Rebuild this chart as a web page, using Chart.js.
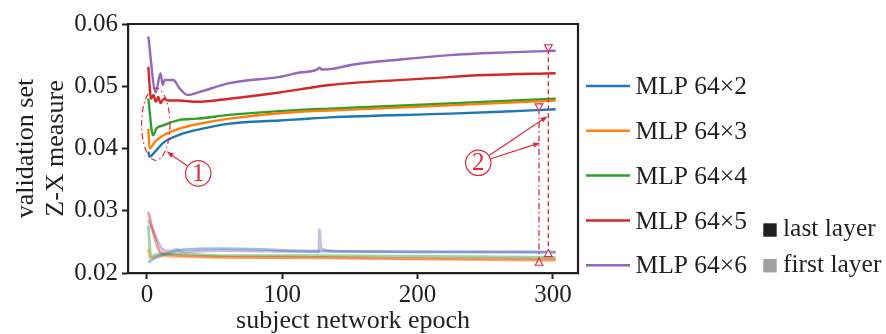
<!DOCTYPE html>
<html>
<head>
<meta charset="utf-8">
<script src="https://cdn.jsdelivr.net/npm/chart.js@4.4.1/dist/chart.umd.min.js"></script>
<style>
  html, body { margin: 0; padding: 0; background: #fff; }
  #wrap { position: relative; width: 886px; height: 334px; }
</style>
</head>
<body>
<div id="wrap"><canvas id="chart" width="886" height="334"></canvas></div>
<script>
//Axis ticks and titles
const xTicks = [0, 100, 200, 300];
const yTicks = [0.02, 0.03, 0.04, 0.05, 0.06];
const xTitle = 'subject network epoch';
const yTitle = ['validation set', 'Z-X measure'];

//Series names and colours (legend order)
const seriesNames = ['MLP 64×2', 'MLP 64×3', 'MLP 64×4', 'MLP 64×5', 'MLP 64×6'];
const seriesColors = ['#1f77b4', '#ff7f0e', '#2ca02c', '#d62728', '#9467bd'];
const layerNames = ['last layer', 'first layer'];

//Last layer curves (epoch, value)
const lastEp2  = [1, 2, 6, 12, 24, 37, 61, 98, 113, 135, 224, 261, 302];
const lastVal2 = [0.0395, 0.0387, 0.0395, 0.0409, 0.0422, 0.0430, 0.0440, 0.0445, 0.0447, 0.0450, 0.0456, 0.0459, 0.0463];
const lastEp3  = [1, 2, 6, 12, 24, 37, 61, 113, 135, 211, 302];
const lastVal3 = [0.0432, 0.0400, 0.0411, 0.0421, 0.0432, 0.0439, 0.0448, 0.0459, 0.0461, 0.0468, 0.0477];
const lastEp4  = [1, 4.5, 7, 12, 24, 37, 61, 113, 135, 211, 302];
const lastVal4 = [0.0480, 0.0421, 0.0432, 0.0437, 0.0446, 0.0448, 0.0454, 0.0462, 0.0464, 0.0471, 0.0480];
const lastEp5  = [1, 3, 4.7, 6.6, 8.4, 10, 12.6, 15.7, 24, 37, 61, 98, 113, 135, 211, 250, 302];
const lastVal5 = [0.0531, 0.0480, 0.0486, 0.0475, 0.0483, 0.0473, 0.0480, 0.0477, 0.0477, 0.0475, 0.0480, 0.0490, 0.0495, 0.0502, 0.0513, 0.0518, 0.0521];
const lastEp6  = [1, 6.5, 10, 11.7, 13, 19.5, 24, 30, 39, 61, 98, 113, 126, 127.5, 129, 137, 153, 187, 224, 261, 302];
const lastVal6 = [0.0580, 0.0490, 0.0521, 0.0502, 0.0510, 0.0510, 0.0497, 0.0486, 0.0491, 0.0505, 0.0515, 0.0522, 0.0527, 0.0530, 0.0527, 0.0528, 0.0535, 0.0543, 0.0550, 0.0554, 0.0557];

//First layer curves
const firstEp2  = [1, 5, 14.5, 29, 54, 128, 200, 302];
const firstVal2 = [0.0217, 0.0223, 0.0231, 0.0238, 0.0239, 0.0235, 0.0234, 0.0234];
const firstEp3  = [1, 2, 9.5, 54, 128, 302];
const firstVal3 = [0.0239, 0.0224, 0.0227, 0.0225, 0.0224, 0.0220];
const firstEp4  = [1, 3, 7, 24, 54, 128, 302];
const firstVal4 = [0.0276, 0.0226, 0.0230, 0.0231, 0.0228, 0.0228, 0.0225];
const firstEp5  = [1, 6, 9.5, 16, 24, 54, 128, 200, 302];
const firstVal5 = [0.0298, 0.0255, 0.0234, 0.0229, 0.0228, 0.0226, 0.0225, 0.0223, 0.0222];
const firstEp6  = [1, 5, 11, 16, 22, 26, 54, 127, 127.5, 128.5, 130, 137, 200, 302];
const firstVal6 = [0.0285, 0.0266, 0.0239, 0.0235, 0.0238, 0.0234, 0.0236, 0.0234, 0.0270, 0.0242, 0.0238, 0.0235, 0.0234, 0.0233];

//Annotations (data coordinates)
const markEpochs = [289.7, 296.6];
const markTops = [0.0468, 0.0563];
const markBottoms = [0.0216, 0.0230];
const ellipseCenter = [6.5, 0.0439];
const ellipseRadius = [10.5, 0.0058];
const calloutLabels = ['1', '2'];
const calloutAt = [[37.9, 0.0360], [244.8, 0.0377]];
const arrowTips = [[[14.6, 0.0395]], [[296, 0.0452], [290.5, 0.0409]]];

const ink = '#231f20';
const red = '#dc2a3e';
const serif = '"Liberation Serif", "Times New Roman", serif';

Chart.defaults.font.family = serif;
Chart.defaults.color = ink;

const toPoints = (ep, val) => ep.map((e, i) => ({x: e, y: val[i]}));

const lastSets = [[lastEp2, lastVal2], [lastEp3, lastVal3], [lastEp4, lastVal4], [lastEp5, lastVal5], [lastEp6, lastVal6]];
const firstSets = [[firstEp2, firstVal2], [firstEp3, firstVal3], [firstEp4, firstVal4], [firstEp5, firstVal5], [firstEp6, firstVal6]];

//light version of a colour for the first layer
const light = (hex, a) => {
    const n = parseInt(hex.slice(1), 16);
    return 'rgba(' + (n >> 16) + ',' + ((n >> 8) & 255) + ',' + (n & 255) + ',' + a + ')';
};

var datasets = [];
firstSets.forEach((s, i) => {
    datasets.push({
        label: seriesNames[i] + ' first',
        data: toPoints(s[0], s[1]),
        borderColor: light(seriesColors[i], 0.45),
        borderWidth: 2.8,
        pointRadius: 0,
        cubicInterpolationMode: 'monotone',
        order: 3
    });
});
lastSets.forEach((s, i) => {
    datasets.push({
        label: seriesNames[i],
        data: toPoints(s[0], s[1]),
        borderColor: seriesColors[i],
        borderWidth: 2.4,
        pointRadius: 0,
        cubicInterpolationMode: 'monotone',
        order: 2
    });
});
//vertical marker lines and their triangles
markEpochs.forEach((e, i) => {
    datasets.push({
        label: 'mark' + i,
        data: [{x: e, y: markBottoms[i]}, {x: e, y: markTops[i]}],
        borderColor: red,
        borderWidth: 1.3,
        borderDash: i == 0 ? [6, 3, 1.5, 3] : [5, 3],
        pointRadius: 0,
        order: 1
    });
});
datasets.push({
    label: 'tops',
    data: markEpochs.map((e, i) => ({x: e, y: markTops[i]})),
    showLine: false,
    pointStyle: 'triangle',
    rotation: 180,
    pointRadius: 4.5,
    pointBorderWidth: 1.1,
    pointBorderColor: red,
    pointBackgroundColor: '#fff',
    order: 0
});
datasets.push({
    label: 'bottoms',
    data: markEpochs.map((e, i) => ({x: e, y: markBottoms[i]})),
    showLine: false,
    pointStyle: 'triangle',
    pointRadius: 4.5,
    pointBorderWidth: 1.1,
    pointBorderColor: red,
    pointBackgroundColor: '#fff',
    order: 0
});

/*
    Ellipse, callout circles and arrows
*/
const annotatePlugin = {
    id: 'annotate',
    afterDatasetsDraw(chart) {
        const {ctx} = chart;
        const x = chart.scales.x, y = chart.scales.y;
        ctx.save();
        ctx.strokeStyle = red;
        ctx.fillStyle = red;
        ctx.lineWidth = 1.2;
        const cx = x.getPixelForValue(ellipseCenter[0]);
        const cy = y.getPixelForValue(ellipseCenter[1]);
        const rx = x.getPixelForValue(ellipseCenter[0] + ellipseRadius[0]) - cx;
        const ry = cy - y.getPixelForValue(ellipseCenter[1] + ellipseRadius[1]);
        ctx.setLineDash([6, 3, 1.5, 3]);
        ctx.beginPath();
        ctx.ellipse(cx, cy, rx, ry, 0, 0, 2 * Math.PI);
        ctx.stroke();
        ctx.setLineDash([]);
        const r = 12.7;
        calloutLabels.forEach((lab, i) => {
            const px = x.getPixelForValue(calloutAt[i][0]);
            const py = y.getPixelForValue(calloutAt[i][1]);
            ctx.beginPath();
            ctx.arc(px, py, r, 0, 2 * Math.PI);
            ctx.stroke();
            ctx.font = '25px ' + serif;
            ctx.textAlign = 'center';
            ctx.textBaseline = 'middle';
            ctx.fillText(lab, px, py + 1);
            arrowTips[i].forEach(t => {
                const tx = x.getPixelForValue(t[0]), ty = y.getPixelForValue(t[1]);
                const dx = tx - px, dy = ty - py, len = Math.hypot(dx, dy);
                const ux = dx / len, uy = dy / len;
                ctx.beginPath();
                ctx.moveTo(px + ux * (r + 0.5), py + uy * (r + 0.5));
                ctx.lineTo(tx - ux * 5, ty - uy * 5);
                ctx.stroke();
                ctx.beginPath();
                ctx.moveTo(tx, ty);
                ctx.lineTo(tx - ux * 7 - uy * 2.6, ty - uy * 7 + ux * 2.6);
                ctx.lineTo(tx - ux * 7 + uy * 2.6, ty - uy * 7 - ux * 2.6);
                ctx.closePath();
                ctx.fill();
            });
        });
        ctx.restore();
    }
};

/*
    Top and right frame lines plus the legend at the right
*/
const framePlugin = {
    id: 'frame',
    afterDraw(chart) {
        const {ctx, chartArea: a} = chart;
        ctx.save();
        ctx.strokeStyle = ink;
        ctx.lineWidth = 2.2;
        ctx.beginPath();
        ctx.moveTo(a.left - 1.1, a.top);
        ctx.lineTo(a.right, a.top);
        ctx.lineTo(a.right, a.bottom + 1.1);
        ctx.stroke();

        ctx.font = '25.5px ' + serif;
        ctx.textAlign = 'left';
        ctx.textBaseline = 'alphabetic';
        seriesNames.forEach((name, i) => {
            const ly = 86 + i * 44.8;
            ctx.strokeStyle = seriesColors[i];
            ctx.lineWidth = 2.5;
            ctx.beginPath();
            ctx.moveTo(586, ly);
            ctx.lineTo(630, ly);
            ctx.stroke();
            ctx.fillStyle = ink;
            ctx.fillText(name, 635.5, ly + 8.2);
        });
        const keyColors = [ink, '#a0a0a0'];
        const keyY = [223.3, 259];
        layerNames.forEach((name, i) => {
            ctx.fillStyle = keyColors[i];
            ctx.fillRect(763.3, keyY[i], 13.4, 13.4);
            ctx.fillStyle = ink;
            ctx.fillText(name, 783, keyY[i] + 13);
        });
        ctx.restore();
    }
};

new Chart(document.getElementById('chart'), {
    type: 'line',
    data: {datasets: datasets},
    options: {
        responsive: false,
        animation: false,
        devicePixelRatio: 1,
        layout: {padding: {left: 0, top: 24, right: 308, bottom: 0}},
        plugins: {legend: {display: false}, tooltip: {enabled: false}},
        scales: {
            x: {
                type: 'linear',
                min: -14,
                max: 318.5,
                afterBuildTicks: s => { s.ticks = xTicks.map(v => ({value: v})); },
                afterFit: s => { s.height = 61; },
                ticks: {font: {size: 25}, color: ink, padding: 1, maxRotation: 0},
                grid: {drawOnChartArea: false, tickLength: 6, tickWidth: 2, tickColor: ink},
                border: {color: ink, width: 2.2},
                title: {display: true, text: xTitle, color: ink, font: {size: 26, lineHeight: 1}, padding: {top: 0, bottom: 0}}
            },
            y: {
                type: 'linear',
                min: 0.02,
                max: 0.06,
                afterBuildTicks: s => { s.ticks = yTicks.map(v => ({value: v})); },
                afterFit: s => { s.width = 128; },
                ticks: {font: {size: 25}, color: ink, padding: 4, callback: v => v.toFixed(2)},
                grid: {drawOnChartArea: false, tickLength: 6, tickWidth: 2, tickColor: ink},
                border: {color: ink, width: 2.2},
                title: {display: true, text: yTitle, color: ink, font: {size: 26, lineHeight: 1.12}, padding: {top: 12, bottom: 0}}
            }
        }
    },
    plugins: [annotatePlugin, framePlugin]
});
</script>
</body>
</html>
